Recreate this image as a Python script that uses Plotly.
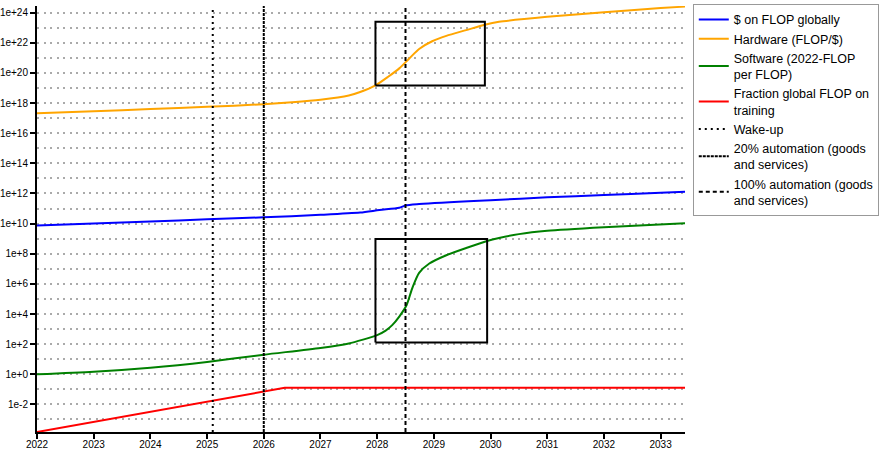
import plotly.graph_objects as go

# ---------------- data ----------------
hw_years = [2022, 2023, 2024, 2025, 2026, 2026.5, 2027, 2027.5, 2027.7, 2027.97,
            2028.2, 2028.39, 2028.57, 2028.74, 2028.97, 2029.22, 2029.57, 2029.9,
            2030.15, 2031, 2032, 2033, 2033.43]
hardware = [2.09e17, 2.88e17, 3.98e17, 5.62e17, 8.32e17, 1.12e18, 1.66e18, 3.16e18,
            5.37e18, 1.48e19, 5.75e19, 2.0e20, 9.33e20, 3.89e21, 1.26e22, 2.88e22,
            6.92e22, 1.58e23, 2.45e23, 5.25e23, 1.07e24, 2.0e24, 2.51e24]

usd_years = [2022, 2023, 2024, 2025, 2026, 2027, 2027.7, 2028.04, 2028.39, 2028.5,
             2028.74, 2029.8, 2030, 2031, 2032, 2033, 2033.43]
usd_flop = [7.41e9, 1.0e10, 1.38e10, 1.91e10, 2.63e10, 3.8e10, 5.37e10, 7.94e10,
            1.12e11, 1.62e11, 2.0e11, 3.31e11, 3.55e11, 5.5e11, 7.94e11, 1.12e12, 1.32e12]

sw_years = [2022, 2023, 2024, 2025, 2026, 2027, 2027.5, 2027.75, 2028.0, 2028.15,
            2028.27, 2028.39, 2028.52, 2028.62, 2028.74, 2028.92, 2029.22, 2029.57,
            2029.94, 2030.15, 2030.5, 2031, 2032, 2033.43]
software = [1.0, 1.48, 2.75, 6.6, 20, 56, 112, 200, 398, 794, 1905, 6760, 3.98e4,
            5.25e5, 5.37e6, 2.24e7, 7.94e7, 2.4e8, 7.08e8, 1.12e9, 2.0e9, 3.31e9,
            5.75e9, 1.07e10]

fr_years = [2022, 2026.37, 2033.43]
fraction = [1.48e-4, 0.126, 0.126]

milestones = ["Wake-up", "20% automation (goods<br>and services)",
              "100% automation (goods<br>and services)"]
milestone_years = [2025.1, 2026.0, 2028.5]
milestone_dash = ["2px,4px", "3px,1px", "4px,3px"]

box_x0 = [2027.97, 2027.97]
box_x1 = [2029.9, 2029.94]
box_ylo = [1.48e19, 1.29e2]
box_yhi = [2.45e23, 9.33e8]

y_tick_exps = list(range(-2, 25, 2))
y_minor_exps = list(range(-3, 25, 2))
x_years = list(range(2022, 2034))

# ---------------- figure ----------------
fig = go.Figure()
series = [
    (usd_years, usd_flop, "$ on FLOP globally", "blue", "spline"),
    (hw_years, hardware, "Hardware (FLOP/$)", "orange", "spline"),
    (sw_years, software, "Software (2022-FLOP<br>per FLOP)", "green", "spline"),
    (fr_years, fraction, "Fraction global FLOP on<br>training", "red", "linear"),
]
for xs, ys, name, col, shape in series:
    fig.add_trace(go.Scatter(x=xs, y=ys, name=name, mode="lines",
                             line=dict(color=col, width=2, shape=shape, smoothing=0.7)))

for x0, x1, lo, hi in zip(box_x0, box_x1, box_ylo, box_yhi):
    fig.add_trace(go.Scatter(x=[x0, x1, x1, x0, x0], y=[lo, lo, hi, hi, lo],
                             mode="lines", line=dict(color="black", width=2),
                             showlegend=False, hoverinfo="skip"))

for name, yr, dash in zip(milestones, milestone_years, milestone_dash):
    fig.add_shape(type="line", x0=yr, x1=yr, xref="x", y0=0, y1=1, yref="y domain",
                  line=dict(color="black", width=2, dash=dash),
                  showlegend=True, name=name)

fig.update_layout(
    width=883, height=452, autosize=False,
    margin=dict(l=37, r=197, t=4, b=20),
    paper_bgcolor="white", plot_bgcolor="white",
    font=dict(family="Liberation Sans, Arial, sans-serif", color="black", size=10),
    legend=dict(x=1.012, y=1.005, xanchor="left", yanchor="top",
                bordercolor="#999", borderwidth=1, font=dict(size=12.5),
                tracegroupgap=0, itemwidth=30),
)
fig.update_xaxes(range=[2022, 2033.43], tickvals=x_years,
                 ticktext=[str(y) for y in x_years], automargin=False,
                 showgrid=False, zeroline=False, showline=True, linecolor="black",
                 linewidth=2, ticks="outside", ticklen=5, tickwidth=2, tickcolor="black",
                 tickfont=dict(size=10), ticklabelstandoff=-3)
fig.update_yaxes(type="log", range=[-3.83, 24.44], automargin=False,
                 tickvals=[10.0 ** e for e in y_tick_exps],
                 ticktext=[("1e+%d" % e) if e >= 0 else ("1e%d" % e) for e in y_tick_exps],
                 showgrid=True, gridcolor="#aaa", gridwidth=2, griddash="2px,4.5px",
                 minor=dict(tickvals=[10.0 ** e for e in y_minor_exps], showgrid=True,
                            gridcolor="#aaa", gridwidth=2, griddash="2px,4.5px", ticks=""),
                 zeroline=False, showline=True, linecolor="black", linewidth=2,
                 ticks="outside", ticklen=5, tickwidth=2, tickcolor="black",
                 tickfont=dict(size=10))

fig.write_html("out.html", config={"displayModeBar": False},
               post_script="document.body.style.margin='0';")
